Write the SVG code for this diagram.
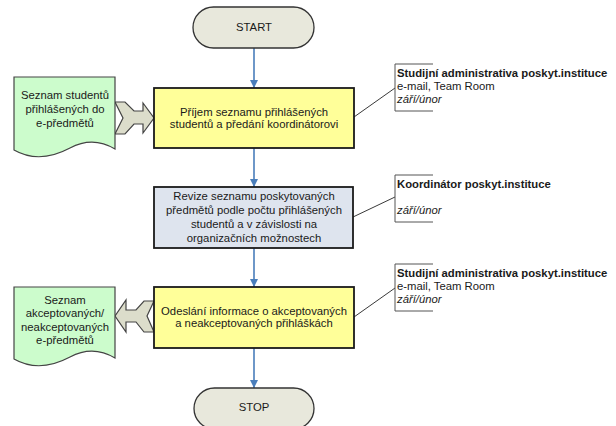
<svg xmlns="http://www.w3.org/2000/svg" width="616" height="426" viewBox="0 0 616 426">
<defs>
<marker id="ah" viewBox="0 0 10 10" refX="10" refY="5" markerWidth="8" markerHeight="8" markerUnits="userSpaceOnUse" orient="auto">
<path d="M0,0 L10,5 L0,10 Z" fill="#4a7ebb"/>
</marker>
<style>
text{font-family:"Liberation Sans",Arial,sans-serif;font-size:11.3px;fill:#1a1a1a}
.c{text-anchor:middle}
.b{font-weight:bold}
.i{font-style:italic}
.term{fill:#e8e8dc;stroke:#333;stroke-width:1.3}
.proc{fill:#ffff99;stroke:#1a1a1a;stroke-width:1.8}
.proc2{fill:#dee4ee;stroke:#1a1a1a;stroke-width:1.8}
.doc{fill:#ccfccc;stroke:#444;stroke-width:1.2}
.chev{fill:#dcddcb;stroke:#444;stroke-width:1.2}
.flow{stroke:#4a7ebb;stroke-width:1.6;fill:none}
.ann{stroke:#555;stroke-width:1;fill:none}
.lead{stroke:#222;stroke-width:0.9;fill:none}
</style>
</defs>

<g id="connectors">
<line class="flow" x1="254" y1="48" x2="254" y2="88" marker-end="url(#ah)"/>
<line class="flow" x1="254" y1="148" x2="254" y2="187" marker-end="url(#ah)"/>
<line class="flow" x1="254" y1="248" x2="254" y2="287" marker-end="url(#ah)"/>
<line class="flow" x1="254" y1="348" x2="254" y2="388" marker-end="url(#ah)"/>
<polygon class="chev" points="115,102 125,102 134,111 143,111 143,103 154,118 143,133 143,124 134,124 125,134 115,134 123,118"/>
<polygon class="chev" points="154,301 144,301 136,310 126,310 126,300 115,316 126,332 126,322 136,322 144,332 154,332 147,316"/>
<line class="lead" x1="354" y1="117" x2="395" y2="88"/>
<line class="lead" x1="353" y1="217" x2="395" y2="197"/>
<line class="lead" x1="354" y1="317" x2="395" y2="288"/>
</g>

<g id="start">
<rect class="term" x="193" y="7" width="121" height="41" rx="20.5"/>
<text class="c" x="254" y="31">START</text>
</g>

<g id="doc1">
<path class="doc" d="M14,77 H115 V149 C100,140 85,140 70,148 C55,156 35,162 14,150 Z"/>
<text class="c" x="65" y="99">Seznam studentů</text>
<text class="c" x="65" y="113">přihlášených do</text>
<text class="c" x="65" y="127">e-předmětů</text>
</g>

<g id="box1">
<rect class="proc" x="154" y="88" width="200" height="60"/>
<text class="c" x="254" y="116">Příjem seznamu přihlášených</text>
<text class="c" x="254" y="128">studentů a předání koordinátorovi</text>
</g>

<g id="ann1">
<path class="ann" d="M433,64 H395 V111 H433"/>
<text class="b" x="397" y="77">Studijní administrativa poskyt.instituce</text>
<text x="397" y="90">e-mail, Team Room</text>
<text class="i" x="397" y="103">září/únor</text>
</g>

<g id="box2">
<rect class="proc2" x="154" y="187" width="199" height="61"/>
<text class="c" x="254" y="200">Revize seznamu poskytovaných</text>
<text class="c" x="254" y="214">předmětů podle počtu přihlášených</text>
<text class="c" x="254" y="228">studentů a v závislosti na</text>
<text class="c" x="254" y="242">organizačních možnostech</text>
</g>

<g id="ann2">
<path class="ann" d="M433,175 H395 V222 H433"/>
<text class="b" x="397" y="188">Koordinátor poskyt.instituce</text>
<text class="i" x="397" y="214">září/únor</text>
</g>

<g id="doc2">
<path class="doc" d="M14,287 H115 V358 C100,349 85,349 70,357 C55,365 35,371 14,359 Z"/>
<text class="c" x="65" y="304">Seznam</text>
<text class="c" x="65" y="317">akceptovaných/</text>
<text class="c" x="65" y="331">neakceptovaných</text>
<text class="c" x="65" y="344">e-předmětů</text>
</g>

<g id="box3">
<rect class="proc" x="154" y="287" width="200" height="61"/>
<text class="c" x="254" y="315">Odeslání informace o akceptovaných</text>
<text class="c" x="254" y="327">a neakceptovaných přihláškách</text>
</g>

<g id="ann3">
<path class="ann" d="M433,264 H395 V311 H433"/>
<text class="b" x="397" y="277">Studijní administrativa poskyt.instituce</text>
<text x="397" y="290">e-mail, Team Room</text>
<text class="i" x="397" y="303">září/únor</text>
</g>

<g id="stop">
<rect class="term" x="194" y="388" width="120" height="41" rx="20.5"/>
<text class="c" x="254" y="411">STOP</text>
</g>
</svg>
